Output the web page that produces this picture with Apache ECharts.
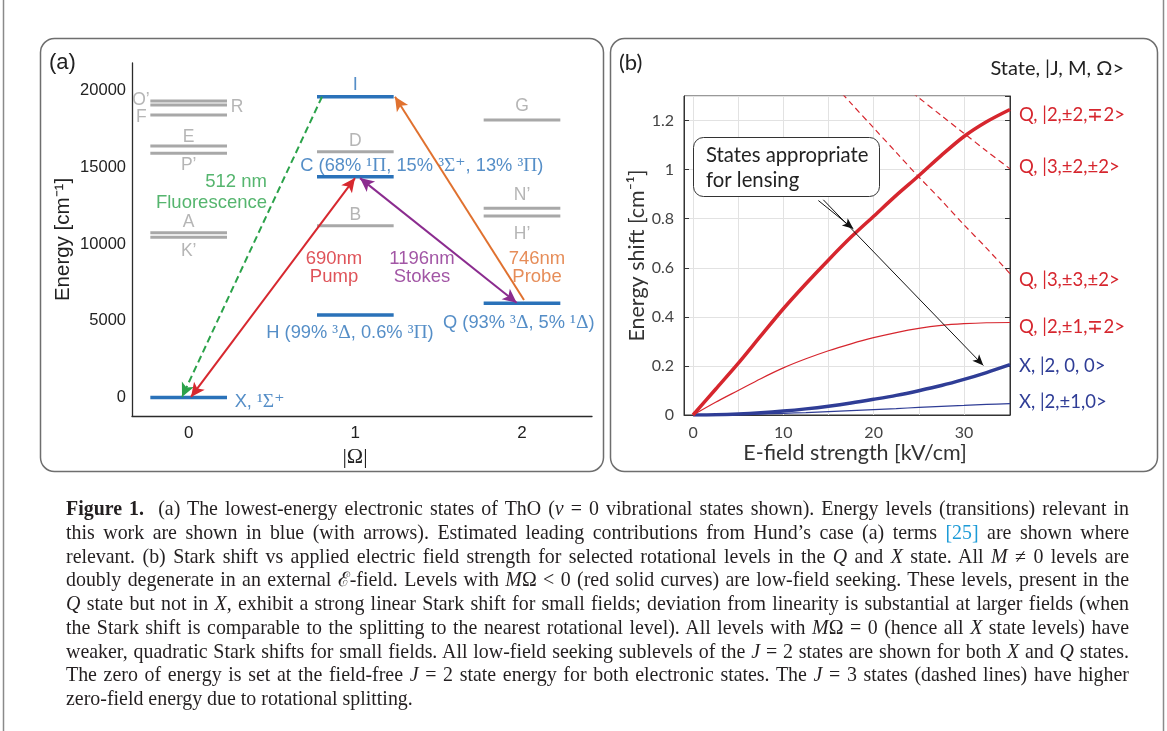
<!DOCTYPE html>
<html>
<head>
<meta charset="utf-8">
<title>ThO energy levels and Stark shifts</title>
<script src="https://cdn.jsdelivr.net/npm/echarts@6/dist/echarts.min.js"></script>
<style>
  html, body { margin: 0; padding: 0; background: #fff; }
  #wrap { position: relative; width: 1167px; height: 731px; overflow: hidden; }
  #chart { position: absolute; left: 0; top: 0; width: 1167px; height: 731px; }
  #caption {
    position: absolute; left: 66px; top: 497px; width: 1063px;
    font-family: "Liberation Serif", "Times New Roman", serif;
    font-size: 20px; line-height: 23.75px; color: #231f20;
  }
  #caption .ln { text-align: justify; text-align-last: justify; white-space: nowrap; }
  #caption .last { text-align: left; text-align-last: left; }
  #caption .ref { color: #1d9bd7; }
</style>
</head>
<body>
<div id="wrap">
  <div id="chart"></div>
  <div id="caption">
    <div class="ln"><b>Figure 1.</b>&nbsp; (a) The lowest-energy electronic states of ThO (<i>v</i> = 0 vibrational states shown). Energy levels (transitions) relevant in</div>
    <div class="ln">this work are shown in blue (with arrows). Estimated leading contributions from Hund’s case (a) terms <span class="ref">[25]</span> are shown where</div>
    <div class="ln">relevant. (b) Stark shift vs applied electric field strength for selected rotational levels in the <i>Q</i> and <i>X</i> state. All <i>M</i> ≠ 0 levels are</div>
    <div class="ln">doubly degenerate in an external ℰ-field. Levels with <i>M</i>Ω &lt; 0 (red solid curves) are low-field seeking. These levels, present in the</div>
    <div class="ln"><i>Q</i> state but not in <i>X</i>, exhibit a strong linear Stark shift for small fields; deviation from linearity is substantial at larger fields (when</div>
    <div class="ln">the Stark shift is comparable to the splitting to the nearest rotational level). All levels with <i>M</i>Ω = 0 (hence all <i>X</i> state levels) have</div>
    <div class="ln">weaker, quadratic Stark shifts for small fields. All low-field seeking sublevels of the <i>J</i> = 2 states are shown for both <i>X</i> and <i>Q</i> states.</div>
    <div class="ln">The zero of energy is set at the field-free <i>J</i> = 2 state energy for both electronic states. The <i>J</i> = 3 states (dashed lines) have higher</div>
    <div class="ln last">zero-field energy due to rotational splitting.</div>
  </div>
</div>
<script>
// ---------- (a) electronic levels: |Omega| and energy in cm^-1 ----------
const grayOmega  = [0, 0, 0, 0, 0, 0, 0, 1, 1, 2, 2, 2];
const grayEnergy = [19320, 19060, 18410, 16390, 15915, 10740, 10445, 16020, 11200, 18085, 12330, 11830];
const grayNames  = ['O’', 'R', 'F', 'E', 'P’', 'A', 'K’', 'D', 'B', 'G', 'N’', 'H’'];

const blueOmega  = [0, 1, 1, 1, 2];
const blueEnergy = [0, 19600, 14390, 5380, 6140];
const blueNames  = ['X', 'I', 'C', 'H', 'Q'];

const omegaTicks  = [0, 1, 2];
const energyTicks = [0, 5000, 10000, 15000, 20000];

// transitions: [from Omega, from E, to Omega, to E]
const fluorescence = [0.80, 19600, -0.04, 40];
const pump         = [0.014, 40, 0.998, 14300];
const stokes       = [1.028, 14300, 1.968, 6180];
const probe        = [2.012, 6360, 1.238, 19600];

// ---------- (b) Stark shift (cm^-1) vs field (kV/cm) ----------
const fieldKV  = [0, 2.5, 5, 7.5, 10, 12.5, 15, 17.5, 20, 22.5, 25, 27.5, 30, 32.5, 35.1];
const shiftQ22 = [0, 0.105, 0.21, 0.322, 0.433, 0.535, 0.632, 0.725, 0.81, 0.895, 0.975, 1.058, 1.135, 1.195, 1.245];
const shiftQ21 = [0, 0.052, 0.1, 0.148, 0.192, 0.229, 0.262, 0.29, 0.315, 0.336, 0.353, 0.365, 0.372, 0.376, 0.377];
const shiftX20 = [0, 0.001, 0.004, 0.009, 0.016, 0.025, 0.036, 0.049, 0.064, 0.08, 0.099, 0.12, 0.145, 0.173, 0.205];
const shiftX21 = [0, 0.0005, 0.002, 0.004, 0.007, 0.010, 0.014, 0.018, 0.022, 0.026, 0.031, 0.035, 0.039, 0.043, 0.046];

const fieldQ33 = [15, 17.5, 20, 22.5, 25, 27.5, 30, 32.5, 35.1];
const shiftQ33 = [1.37, 1.27, 1.17, 1.07, 0.97, 0.875, 0.775, 0.68, 0.576];
const fieldQ32 = [22.5, 25, 27.5, 30, 32.5, 35.1];
const shiftQ32 = [1.365, 1.293, 1.22, 1.148, 1.076, 1.003];

const fieldGrid = [0, 5, 10, 15, 20, 25, 30];

const stateLabels = {
  q22: 'Q, |2,±2,∓2>',
  q32: 'Q, |3,±2,±2>',
  q33: 'Q, |3,±3,±2>',
  q21: 'Q, |2,±1,∓2>',
  x20: 'X, |2, 0, 0>',
  x21: 'X, |2,±1,0>'
};

// ---------- styling ----------
const SANS_A = '"Liberation Sans", Arial, sans-serif';
const SANS_B = 'Lato, "Noto Sans", sans-serif';
const SERIF  = '"Liberation Serif", "DejaVu Serif", serif';
const GRAY_LEVEL = '#a8a8a8', GRAY_TEXT = '#a3a3a3', BLUE = '#2a72b9';
const GREEN = '#2ba24a', RED_A = '#d7282f', PURPLE = '#8b2c8f', ORANGE = '#e0712f';
const RED_B = '#d6262e', NAVY = '#2f3d96';
const HALF_WIDTH = 0.23;

const zip = (xs, ys) => xs.map((x, i) => [x, ys[i]]);

// label placement for each level name: [dx, dy, align]
const grayPlace = {
  'O’': [-39, -1, 'right'], 'R': [42, 2, 'left'], 'F': [-42, 2, 'right'],
  'E': [0, -8.5, 'center'], 'P’': [0, 12, 'center'], 'A': [0, -11, 'center'],
  'K’': [0, 13.5, 'center'], 'D': [0, -11, 'center'], 'B': [0, -11, 'center'],
  'G': [0, -14, 'center'], 'N’': [0, -13, 'center'], 'H’': [0, 18, 'center']
};
const bluePlace = {
  'X': [46, 4, 'left'], 'I': [0, -12, 'center'], 'C': [-55, -11, 'left'],
  'H': [-89, 18, 'left'], 'Q': [-79, 19.5, 'left']
};
const blueText = {
  'X': '{t|X, }{g|¹Σ⁺}',
  'I': '{t|I}',
  'C': '{t|C (68% }{g|¹Π}{t|, 15% }{g|³Σ⁺}{t|, 13% }{g|³Π}{t|)}',
  'H': '{t|H (99% }{g|³Δ}{t|, 0.6% }{g|³Π}{t|)}',
  'Q': '{t|Q (93% }{g|³Δ}{t|, 5% }{g|¹Δ}{t|)}'
};

function levelSeries(omegas, energies, color, width) {
  return {
    type: 'custom', xAxisIndex: 0, yAxisIndex: 0, silent: true, z: 2,
    data: zip(omegas, energies),
    encode: { x: 0, y: 1 },
    renderItem: (params, api) => {
      const om = api.value(0), e = api.value(1);
      const a = api.coord([om - HALF_WIDTH, e]);
      const b = api.coord([om + HALF_WIDTH, e]);
      return { type: 'line', shape: { x1: a[0], y1: a[1], x2: b[0], y2: b[1] },
               style: { stroke: color, lineWidth: width } };
    }
  };
}

const levelLabels = [];
grayNames.forEach((n, i) => {
  const p = grayPlace[n];
  levelLabels.push({ value: [grayOmega[i], grayEnergy[i]],
    label: { formatter: n, offset: [p[0], p[1]], align: p[2], color: GRAY_TEXT,
             fontFamily: SANS_A, fontSize: 17.5 } });
});
blueNames.forEach((n, i) => {
  const p = bluePlace[n];
  levelLabels.push({ value: [blueOmega[i], blueEnergy[i]],
    label: { formatter: blueText[n], offset: [p[0], p[1]], align: p[2] } });
});

function arrow(t, color, both, dashed) {
  return [
    { coord: [t[0], t[1]], symbol: both ? 'arrow' : 'none', symbolSize: [10, 14],
      lineStyle: { color: color, width: 2, type: dashed ? [7, 4] : 'solid' } },
    { coord: [t[2], t[3]], symbol: 'arrow', symbolSize: [10, 14] }
  ];
}

const transitionText = [
  { value: [0.47, 13360], label: { formatter: '512 nm\nFluorescence', color: GREEN, align: 'right', lineHeight: 21 } },
  { value: [0.872, 8440], label: { formatter: '690nm\nPump', color: RED_A, align: 'center', lineHeight: 18 } },
  { value: [1.40, 8440], label: { formatter: '1196nm\nStokes', color: PURPLE, align: 'center', lineHeight: 18 } },
  { value: [2.09, 8440], label: { formatter: '746nm\nProbe', color: ORANGE, align: 'center', lineHeight: 18 } }
];

function stark(xs, ys, color, width, dashed, label, dy) {
  return {
    type: 'line', xAxisIndex: 1, yAxisIndex: 1, silent: true,
    data: zip(xs, ys), showSymbol: false, symbol: 'none', smooth: 0.3,
    lineStyle: { color: color, width: width, type: dashed ? [6, 4] : 'solid' },
    endLabel: { show: true, formatter: label, color: color, fontFamily: SANS_B,
                fontSize: 18.5, distance: 9, offset: [0, dy], align: 'left' }
  };
}

const option = {
  backgroundColor: '#fff',
  animation: false,
  grid: [
    { left: 132, top: 63, width: 460, height: 353, show: false },
    { left: 684, top: 96, width: 326, height: 319, show: true,
      borderColor: '#333', borderWidth: 1, backgroundColor: 'transparent' }
  ],
  xAxis: [
    { type: 'value', gridIndex: 0, min: -0.34, max: 2.42, interval: 0.02,
      axisLine: { show: true, onZero: false, lineStyle: { color: '#2b2b2b', width: 1.3 } },
      axisTick: { show: false }, splitLine: { show: false },
      axisLabel: { margin: 9, color: '#222', fontFamily: SANS_A, fontSize: 17,
        formatter: v => omegaTicks.some(t => Math.abs(t - v) < 1e-6) ? String(Math.round(v)) : '' },
      name: '|Ω|', nameLocation: 'middle', nameGap: 30,
      nameTextStyle: { fontFamily: SERIF, fontSize: 22, color: '#222', padding: [0, 14, 0, 0] } },
    { type: 'value', gridIndex: 1, min: -1, max: 35.1, interval: 1,
      axisLine: { show: true, onZero: false, lineStyle: { color: '#333', width: 1 } },
      axisTick: { show: false }, splitLine: { show: false },
      axisLabel: { margin: 10, color: '#444', fontFamily: SANS_B, fontSize: 16,
        formatter: v => (Math.abs(v % 10) < 1e-6 && v >= 0 && v <= 30) ? String(Math.round(v)) : '' },
      name: 'E-field strength [kV/cm]', nameLocation: 'middle', nameGap: 26,
      nameTextStyle: { fontFamily: SANS_B, fontSize: 21.5, color: '#333', padding: [0, 0, 0, 16] } }
  ],
  yAxis: [
    { type: 'value', gridIndex: 0, min: -1200, max: 21800, interval: 200,
      axisLine: { show: true, onZero: false, lineStyle: { color: '#2b2b2b', width: 1.3 } },
      axisTick: { show: false }, splitLine: { show: false },
      axisLabel: { margin: 6, color: '#222', fontFamily: SANS_A, fontSize: 16.5,
        formatter: v => energyTicks.indexOf(Math.round(v)) >= 0 && Math.abs(v - Math.round(v)) < 1e-6 ? String(Math.round(v)) : '' },
      name: 'Energy [cm⁻¹]', nameLocation: 'middle', nameGap: 58,
      nameTextStyle: { fontFamily: SANS_A, fontSize: 20.5, color: '#222' } },
    { type: 'value', gridIndex: 1, min: 0, max: 1.3, interval: 0.2,
      axisLine: { show: true, onZero: false, lineStyle: { color: '#333', width: 1 } },
      axisTick: { show: true, inside: true, length: 5, lineStyle: { color: '#333' } },
      splitLine: { show: true, lineStyle: { color: '#e2e2e2', width: 1 } },
      axisLabel: { margin: 10, color: '#444', fontFamily: SANS_B, fontSize: 16, showMaxLabel: false,
        formatter: v => v > 1.25 ? '' : (Math.abs(v - Math.round(v)) < 1e-6 ? String(Math.round(v)) : v.toFixed(1)) },
      name: 'Energy shift [cm⁻¹]', nameLocation: 'middle', nameGap: 36,
      nameTextStyle: { fontFamily: SANS_B, fontSize: 21.5, color: '#333' } },
    { type: 'value', gridIndex: 1, min: 0, max: 1.3, interval: 0.2, position: 'right',
      axisLine: { show: true, onZero: false, lineStyle: { color: '#333', width: 1 } },
      axisTick: { show: true, inside: true, length: 5, lineStyle: { color: '#333' } },
      splitLine: { show: false }, axisLabel: { show: false } }
  ],
  graphic: [
    { type: 'line', silent: true, shape: { x1: 3.5, y1: 0, x2: 3.5, y2: 731 }, style: { stroke: '#8a8a8a', lineWidth: 1.5 } },
    { type: 'line', silent: true, shape: { x1: 1163.5, y1: 0, x2: 1163.5, y2: 731 }, style: { stroke: '#8a8a8a', lineWidth: 1.5 } },
    { type: 'rect', silent: true, z: -10, shape: { x: 40.5, y: 38.5, width: 563, height: 433, r: 14 },
      style: { fill: 'none', stroke: '#6e6e6e', lineWidth: 1.5 } },
    { type: 'rect', silent: true, z: -10, shape: { x: 610.5, y: 38.5, width: 547, height: 433, r: 14 },
      style: { fill: 'none', stroke: '#6e6e6e', lineWidth: 1.5 } },
    { type: 'text', silent: true, left: 49, top: 52, style: { text: '(a)', font: '22px ' + SANS_A, fill: '#222' } },
    { type: 'text', silent: true, left: 619, top: 52, style: { text: '(b)', font: '22px ' + SANS_B, fill: '#222' } },
    { type: 'text', silent: true, right: 43, top: 59, style: { text: 'State, |J, M, Ω>', font: '20px ' + SANS_B, fill: '#222' } },
    { type: 'rect', silent: true, z: 10, shape: { x: 693.5, y: 137.5, width: 186, height: 59, r: 10 },
      style: { fill: '#fff', stroke: '#333', lineWidth: 1 } },
    { type: 'text', silent: true, z: 11, left: 706, top: 143,
      style: { text: 'States appropriate\nfor lensing', font: '20.3px ' + SANS_B, fill: '#222', lineHeight: 25 } }
  ],
  series: [
    levelSeries(grayOmega, grayEnergy, GRAY_LEVEL, 3),
    levelSeries(blueOmega, blueEnergy, BLUE, 3.5),
    {
      type: 'scatter', xAxisIndex: 0, yAxisIndex: 0, silent: true, z: 3,
      symbolSize: 1, itemStyle: { color: 'transparent' },
      data: levelLabels,
      label: { show: true, position: 'inside', verticalAlign: 'middle', color: BLUE,
        fontFamily: SANS_A, fontSize: 18.3,
        rich: { t: { fontFamily: SANS_A, fontSize: 18.3, color: BLUE },
                g: { fontFamily: SERIF, fontSize: 19.5, color: BLUE } } },
      markLine: {
        silent: true, z: 5, animation: false, label: { show: false },
        data: [
          arrow(fluorescence, GREEN, false, true),
          arrow(pump, RED_A, true, false),
          arrow(stokes, PURPLE, true, false),
          arrow(probe, ORANGE, false, false)
        ]
      }
    },
    {
      type: 'scatter', xAxisIndex: 0, yAxisIndex: 0, silent: true, z: 6,
      symbolSize: 1, itemStyle: { color: 'transparent' },
      data: transitionText,
      label: { show: true, position: 'inside', verticalAlign: 'middle',
               fontFamily: SANS_A, fontSize: 18.5 }
    },
    Object.assign(stark(fieldKV, shiftX21, NAVY, 1.2, false, stateLabels.x21, -2), {
      markLine: { silent: true, z: 1, symbol: 'none', label: { show: false }, animation: false,
        lineStyle: { color: '#e2e2e2', width: 1, type: 'solid' },
        data: fieldGrid.map(v => ({ xAxis: v })) }
    }),
    stark(fieldKV, shiftX20, NAVY, 3.5, false, stateLabels.x20, 1),
    stark(fieldKV, shiftQ21, RED_B, 1.2, false, stateLabels.q21, 5),
    stark(fieldKV, shiftQ22, RED_B, 3.5, false, stateLabels.q22, 6),
    stark(fieldQ32, shiftQ32, RED_B, 1.2, true, stateLabels.q32, -2),
    Object.assign(stark(fieldQ33, shiftQ33, RED_B, 1.2, true, stateLabels.q33, 6), {
      markLine: { silent: true, z: 12, label: { show: false }, animation: false,
        lineStyle: { color: '#111', width: 1, type: 'solid' },
        data: [
          [{ coord: [13.88, 0.874], symbol: 'none' }, { coord: [17.75, 0.759], symbol: 'arrow', symbolSize: [7, 11] }],
          [{ coord: [14.43, 0.877], symbol: 'none' }, { coord: [32.15, 0.202], symbol: 'arrow', symbolSize: [7, 11] }]
        ] }
    })
  ]
};

const chart = echarts.init(document.getElementById('chart'));
chart.setOption(option);

// caption: pick the largest font size at which every justified line still fits on one line
(function fitCaption() {
  const box = document.getElementById('caption');
  const lines = Array.from(box.querySelectorAll('.ln'));
  const target = 1058;
  let widest = 0;
  lines.forEach(el => {
    const s = document.createElement('span');
    s.style.whiteSpace = 'nowrap';
    s.innerHTML = el.innerHTML;
    el.innerHTML = '';
    el.appendChild(s);
    widest = Math.max(widest, s.getBoundingClientRect().width);
    el.innerHTML = s.innerHTML;
  });
  const base = parseFloat(getComputedStyle(box).fontSize);
  box.style.fontSize = Math.min(22, base * target / widest).toFixed(2) + 'px';
})();
</script>
</body>
</html>
